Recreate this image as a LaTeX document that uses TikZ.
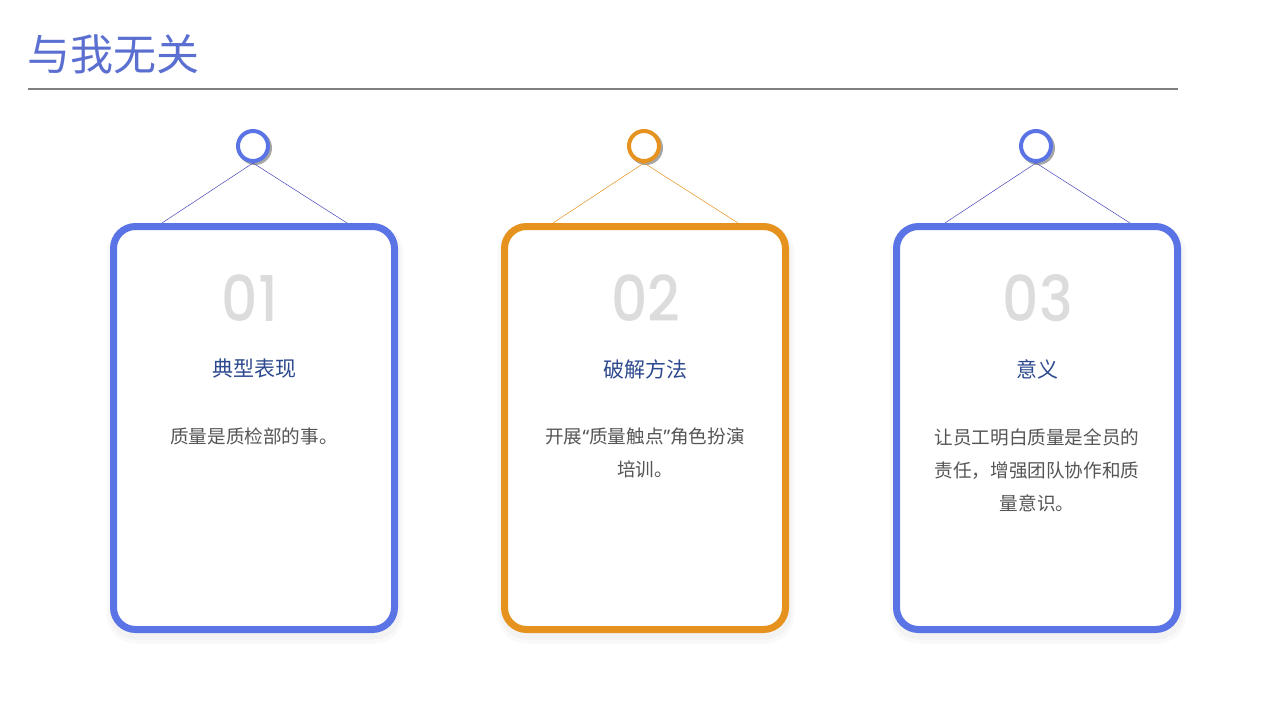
\documentclass[tikz,border=0pt]{standalone}
\usepackage{fontspec}
\usepackage{graphicx}
\newfontfamily\cjk{Noto Sans CJK SC}
\newfontfamily\lat{Noto Sans}
\newfontfamily\numfont{Poppins Medium}
\definecolor{cblue}{HTML}{5A74E6}
\definecolor{corange}{HTML}{E6921E}
\definecolor{ctitle}{HTML}{5B6FD0}
\definecolor{chead}{HTML}{2E4A8F}
\definecolor{cbody}{HTML}{555555}
\definecolor{cnum}{HTML}{DCDCDC}
\tikzset{
  cardbox/.style={draw=#1, line width=7pt, rounded corners=22pt, fill=white,
    minimum width=281pt, minimum height=403pt, inner sep=0pt},
  cardshadow/.style={fill=black, opacity=0.025, rounded corners=26pt, draw=none,
    minimum width=291pt, minimum height=413pt, inner sep=0pt},
  ring/.style={draw=#1, line width=4pt, circle, minimum size=30pt, inner sep=0pt, fill=white},
  ringshadow/.style={draw=gray!70, line width=4pt, circle, minimum size=30pt, inner sep=0pt},
  hang/.style={draw=#1, line width=0.5pt},
  numtxt/.style={text=cnum, font=\numfont\fontsize{63}{63}\selectfont, inner sep=0pt},
  headtxt/.style={text=chead, font=\cjk\fontsize{21}{21}\selectfont, inner sep=0pt},
  bodytxt/.style={text=cbody, font=\cjk\fontsize{18.6}{33}\selectfont, align=center, inner sep=0pt, anchor=north},
}
\newcommand\mycard[8]{%
  % #1 name, #2 center x, #3 color, #4 number, #5 heading, #6 body, #7 hang colour, #8 number shift
  \node[cardshadow] (#1sh1) at (#2+1,433) {};
  \node[cardshadow, minimum width=297pt, minimum height=419pt, rounded corners=29pt] (#1sh2) at (#2+1,434) {};
  \node[ringshadow] (#1rs) at (#2+1,148) {};
  \node[ring=#3] (#1ring) at (#2-1,146) {};
  \coordinate (#1l) at (#2-92,223);
  \coordinate (#1r) at (#2+93,223);
  \draw[hang=#7] (#1ring.south) -- (#1l);
  \draw[hang=#7] (#1ring.south) -- (#1r);
  \node[cardbox=#3] (#1card) at (#2,428) {};
  \node[numtxt] (#1num) at (#2+#8,298) {\scalebox{0.9}[1]{#4}};
  \node[headtxt] (#1head) at (#2,369) {#5};
  \node[bodytxt] (#1body) at (#2,428) {#6};
}
\begin{document}
\begin{tikzpicture}[x=1pt,y=-1pt]
\useasboundingbox[fill=white] (0,0) rectangle (1280,720);
\node[anchor=west, text=ctitle, font=\cjk\fontsize{43}{43}\selectfont, inner sep=0pt] (title) at (27,54) {与我无关};
\coordinate (rulel) at (28,89);
\coordinate (ruler) at (1178,89);
\draw[draw=gray, line width=1.5pt] (rulel) -- (ruler);
\mycard{a}{254}{cblue}{01}{典型表现}{质量是质检部的事。}{blue!45!gray}{-4}
\mycard{b}{645}{corange}{02}{破解方法}{开展{\lat “}质量触点{\lat ”}角色扮演\\培训。}{corange}{1}
\mycard{c}{1037}{cblue}{03}{意义}{让员工明白质量是全员的\\责任，增强团队协作和质\\量意识。}{blue!45!gray}{1}
\end{tikzpicture}
\end{document}
